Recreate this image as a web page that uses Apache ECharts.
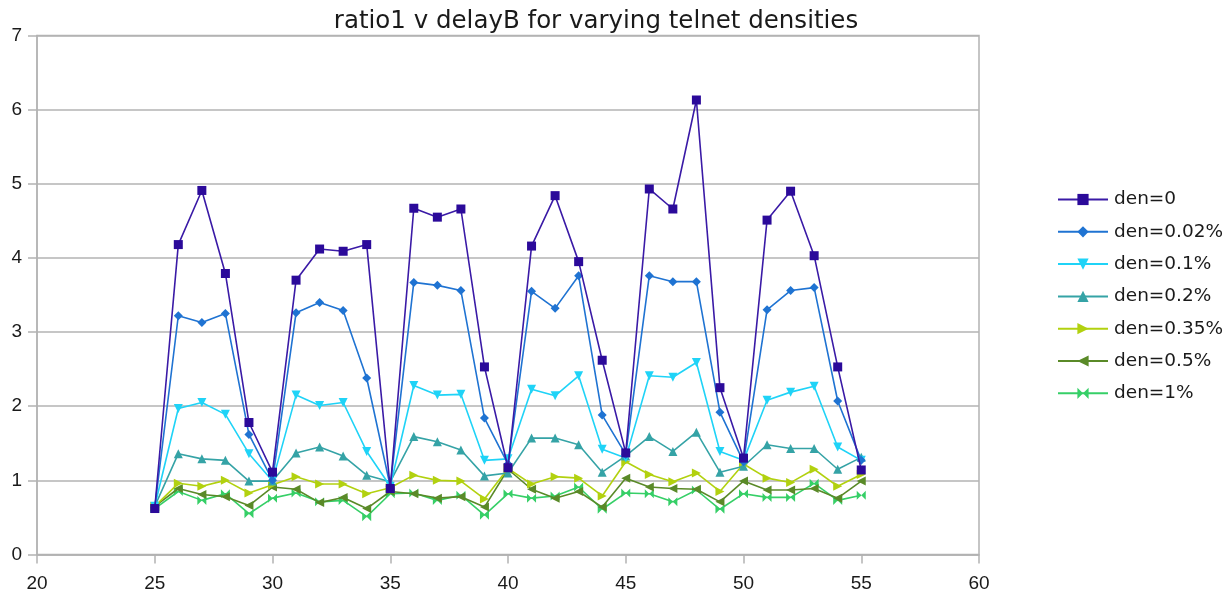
<!DOCTYPE html>
<html>
<head>
<meta charset="utf-8">
<style>
  html, body { margin: 0; padding: 0; background: #ffffff; }
  #chart { width: 1231px; height: 599px; }
</style>
<script src="https://cdn.jsdelivr.net/npm/echarts@6/dist/echarts.min.js"></script>
</head>
<body>
<div id="chart"></div>
<script>
// delayB values (x axis)
const delayB = [25, 26, 27, 28, 29, 30, 31, 32, 33, 34, 35, 36, 37, 38, 39, 40,
                41, 42, 43, 44, 45, 46, 47, 48, 49, 50, 51, 52, 53, 54, 55];

// ratio1 for each telnet density
const den0 = [0.62, 4.18, 4.91, 3.79, 1.78, 1.11, 3.70, 4.12, 4.09, 4.18, 0.89,
              4.67, 4.55, 4.66, 2.53, 1.17, 4.16, 4.84, 3.95, 2.62, 1.37,
              4.93, 4.66, 6.13, 2.25, 1.30, 4.51, 4.90, 4.03, 2.53, 1.14];
const den002 = [0.63, 3.22, 3.13, 3.25, 1.62, 1.00, 3.26, 3.40, 3.29, 2.38, 0.92,
                3.67, 3.63, 3.56, 1.84, 1.22, 3.55, 3.32, 3.76, 1.88, 1.35,
                3.76, 3.68, 3.68, 1.92, 1.25, 3.30, 3.56, 3.60, 2.07, 1.27];
const den01 = [0.65, 1.97, 2.05, 1.89, 1.36, 0.99, 2.15, 2.01, 2.05, 1.39, 0.92,
               2.28, 2.15, 2.16, 1.27, 1.29, 2.23, 2.14, 2.41, 1.42, 1.30,
               2.41, 2.39, 2.59, 1.39, 1.27, 2.08, 2.19, 2.27, 1.45, 1.27];
const den02 = [0.65, 1.36, 1.29, 1.27, 0.99, 0.99, 1.37, 1.45, 1.33, 1.07, 0.98,
               1.59, 1.52, 1.41, 1.06, 1.10, 1.57, 1.57, 1.48, 1.11, 1.33,
               1.59, 1.39, 1.65, 1.11, 1.19, 1.48, 1.43, 1.43, 1.15, 1.31];
const den035 = [0.65, 0.96, 0.92, 1.00, 0.83, 0.94, 1.05, 0.95, 0.95, 0.82, 0.90,
                1.07, 1.00, 0.99, 0.75, 1.16, 0.95, 1.05, 1.03, 0.79, 1.25,
                1.08, 0.98, 1.10, 0.85, 1.22, 1.03, 0.97, 1.15, 0.92, 1.08];
const den05 = [0.65, 0.89, 0.81, 0.78, 0.66, 0.91, 0.88, 0.70, 0.77, 0.62, 0.85,
               0.82, 0.76, 0.78, 0.64, 1.15, 0.88, 0.76, 0.85, 0.64, 1.03,
               0.91, 0.89, 0.88, 0.71, 0.99, 0.87, 0.87, 0.89, 0.76, 0.99];
const den1 = [0.62, 0.85, 0.73, 0.82, 0.55, 0.76, 0.83, 0.71, 0.73, 0.51, 0.82,
              0.83, 0.73, 0.80, 0.53, 0.82, 0.76, 0.79, 0.91, 0.61, 0.83,
              0.82, 0.71, 0.87, 0.61, 0.82, 0.77, 0.77, 0.96, 0.73, 0.80];

const seriesNames = ['den=0', 'den=0.02%', 'den=0.1%', 'den=0.2%', 'den=0.35%', 'den=0.5%', 'den=1%'];
const seriesValues = [den0, den002, den01, den02, den035, den05, den1];

const lineColors = ['#3a1aa6', '#1f73d2', '#1fd3f7', '#35a3a6', '#b2d10f', '#5a8a28', '#36cf67'];
const markColors = ['#2b0a9a', '#1f73d2', '#1fd3f7', '#35a3a6', '#b2d10f', '#5a8a28', '#36cf67'];
const symbols = [
  'rect',
  'diamond',
  'path://M0,0 L10,0 L5,10 Z',
  'triangle',
  'path://M0,0 L10,5 L0,10 Z',
  'path://M10,0 L0,5 L10,10 Z',
  'path://M0,0 L5,5 L0,10 Z M10,0 L5,5 L10,10 Z'
];

const chart = echarts.init(document.getElementById('chart'), null, { renderer: 'canvas' });

const series = seriesNames.map((name, i) => ({
  name: name,
  type: 'line',
  data: delayB.map((x, j) => [x, seriesValues[i][j]]),
  symbol: symbols[i],
  symbolSize: 9,
  showAllSymbol: true,
  lineStyle: { color: lineColors[i], width: 1.6 },
  itemStyle: { color: markColors[i] },
  z: 10 - i,
  animation: false
}));

chart.setOption({
  animation: false,
  backgroundColor: '#ffffff',
  title: {
    text: 'ratio1 v delayB for varying telnet densities',
    left: 591,
    textAlign: 'center',
    top: 4,
    textStyle: { fontFamily: 'DejaVu Sans', fontSize: 24.5, fontWeight: 'normal', color: '#1a1a1a' }
  },
  legend: {
    orient: 'vertical',
    left: 1057,
    top: 190,
    padding: 0,
    itemWidth: 50,
    itemHeight: 14,
    itemGap: 13.3,
    data: seriesNames,
    textStyle: { fontFamily: 'DejaVu Sans', fontSize: 18.5, color: '#1a1a1a', padding: [0, 0, 0, 1] }
  },
  grid: {
    left: 37,
    right: 252,
    top: 35.5,
    bottom: 44.5,
    show: true,
    borderColor: '#b3b3b3',
    borderWidth: 1.5
  },
  xAxis: {
    type: 'value',
    min: 20,
    max: 60,
    interval: 5,
    axisLine: { show: true, lineStyle: { color: '#b3b3b3', width: 1.5 } },
    axisTick: { show: true, length: 9, lineStyle: { color: '#b3b3b3', width: 1.5 } },
    splitLine: { show: false },
    axisLabel: { fontFamily: 'Liberation Sans', fontSize: 19, color: '#1a1a1a', margin: 20 }
  },
  yAxis: {
    type: 'value',
    min: 0,
    max: 7,
    interval: 1,
    axisLine: { show: true, lineStyle: { color: '#b3b3b3', width: 1.5 } },
    axisTick: { show: true, length: 9, lineStyle: { color: '#b3b3b3', width: 1.5 } },
    splitLine: { show: true, lineStyle: { color: '#b3b3b3', width: 1.5 } },
    axisLabel: { fontFamily: 'Liberation Sans', fontSize: 19, color: '#1a1a1a', margin: 15 }
  },
  series: series
});
</script>
</body>
</html>
